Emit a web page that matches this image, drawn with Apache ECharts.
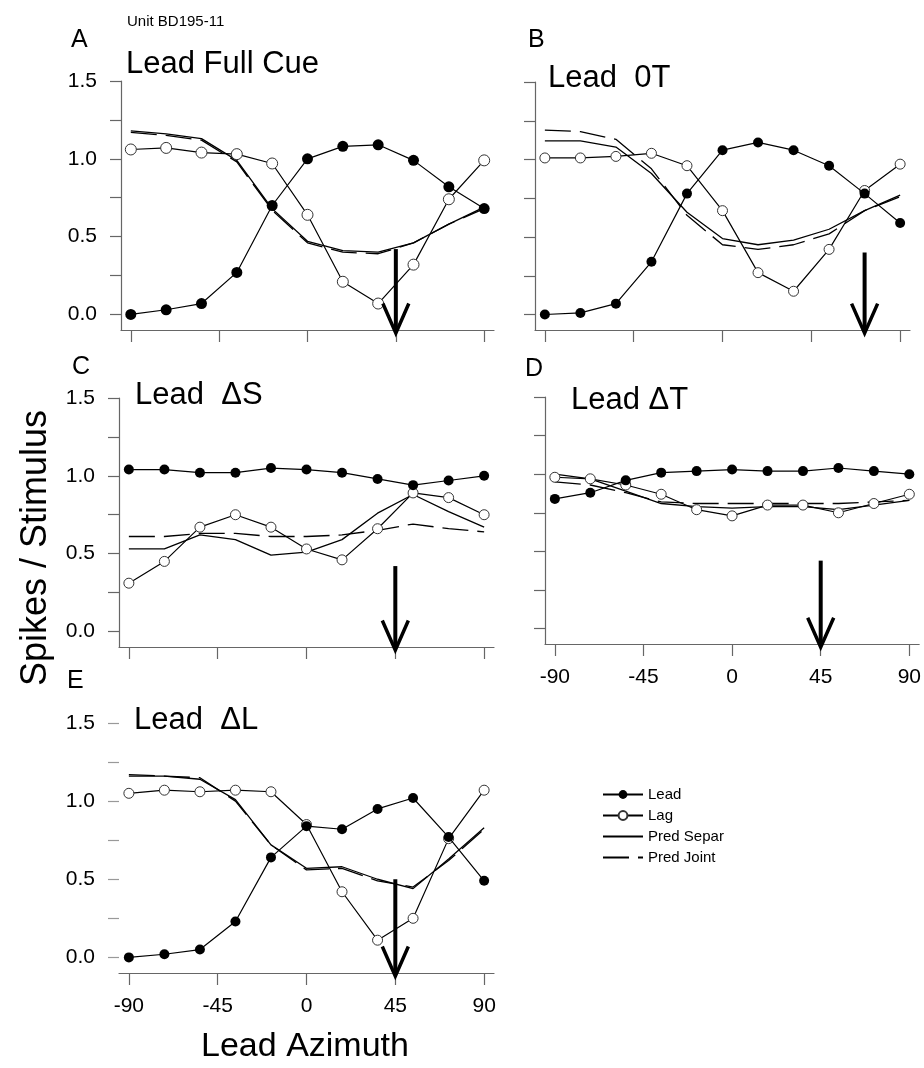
<!DOCTYPE html>
<html>
<head>
<meta charset="utf-8">
<script src="https://cdn.jsdelivr.net/npm/echarts@6/dist/echarts.min.js"></script>
<style>
  html, body { margin: 0; padding: 0; background: #fff; }
  #chart { width: 924px; height: 1068px; }
</style>
</head>
<body>
<div id="chart"></div>
<script>
// Lead azimuth (deg) of every stimulus position
const azimuth = [-90, -72, -54, -36, -18, 0, 18, 36, 54, 72, 90];

// Panel A: Lead Full Cue
const leadA  = [0.00, 0.03, 0.07, 0.27, 0.70, 1.00, 1.08, 1.09, 0.99, 0.82, 0.68];
const lagA   = [1.06, 1.07, 1.04, 1.03, 0.97, 0.64, 0.21, 0.07, 0.32, 0.74, 0.99];
const separA = [1.18, 1.16, 1.13, 0.99, 0.68, 0.47, 0.41, 0.40, 0.46, 0.58, 0.69];
const jointA = [1.17, 1.15, 1.12, 0.98, 0.67, 0.46, 0.40, 0.39, 0.46, 0.58, 0.68];

// Panel B: Lead 0T
const leadB  = [0.00, 0.01, 0.07, 0.34, 0.78, 1.06, 1.11, 1.06, 0.96, 0.78, 0.59];
const lagB   = [1.01, 1.01, 1.02, 1.04, 0.96, 0.67, 0.27, 0.15, 0.42, 0.80, 0.97];
const separB = [1.12, 1.12, 1.08, 0.91, 0.66, 0.49, 0.45, 0.48, 0.55, 0.67, 0.77];
const jointB = [1.19, 1.18, 1.13, 0.94, 0.64, 0.45, 0.42, 0.45, 0.52, 0.67, 0.76];

// Panel C: Lead ΔS
const leadC  = [1.04, 1.04, 1.02, 1.02, 1.05, 1.04, 1.02, 0.98, 0.94, 0.97, 1.00];
const lagC   = [0.31, 0.45, 0.67, 0.75, 0.67, 0.53, 0.46, 0.66, 0.89, 0.86, 0.75];
const separC = [0.53, 0.53, 0.62, 0.59, 0.49, 0.51, 0.59, 0.76, 0.88, 0.77, 0.67];
const jointC = [0.61, 0.61, 0.63, 0.63, 0.61, 0.61, 0.62, 0.65, 0.69, 0.66, 0.64];

// Panel D: Lead ΔT
const leadD  = [0.84, 0.88, 0.96, 1.01, 1.02, 1.03, 1.02, 1.02, 1.04, 1.02, 1.00];
const lagD   = [0.98, 0.97, 0.93, 0.87, 0.77, 0.73, 0.80, 0.80, 0.75, 0.81, 0.87];
const separD = [1.00, 0.97, 0.89, 0.81, 0.79, 0.78, 0.79, 0.79, 0.77, 0.80, 0.83];
const jointD = [0.95, 0.93, 0.88, 0.82, 0.81, 0.81, 0.81, 0.81, 0.81, 0.82, 0.83];

// Panel E: Lead ΔL
const leadE  = [0.00, 0.02, 0.05, 0.23, 0.64, 0.84, 0.82, 0.95, 1.02, 0.77, 0.49];
const lagE   = [1.05, 1.07, 1.06, 1.07, 1.06, 0.85, 0.42, 0.11, 0.25, 0.76, 1.07];
const separE = [1.16, 1.16, 1.14, 1.01, 0.72, 0.57, 0.58, 0.50, 0.44, 0.63, 0.83];
const jointE = [1.17, 1.16, 1.15, 1.00, 0.72, 0.56, 0.57, 0.49, 0.45, 0.62, 0.82];

// Panel annotations
const panelLetters = ['A', 'B', 'C', 'D', 'E'];
const panelTitles = ['Lead Full Cue', 'Lead  0T', 'Lead  \u0394S', 'Lead \u0394T', 'Lead  \u0394L'];
const arrowAzimuth = [45, 72, 45, 45, 45];   // marked azimuth per panel
const arrowTop = [0.42, 0.40, 0.42, 0.44, 0.50];

// Axis ticks
const xTickValues = [-90, -45, 0, 45, 90];
const yTickValues = [0, 0.25, 0.5, 0.75, 1.0, 1.25, 1.5];
const yLabelValues = [0, 0.5, 1.0, 1.5];

const seriesNames = ['Lead', 'Lag', 'Pred Separ', 'Pred Joint'];
const panelData = [
  [leadA, lagA, separA, jointA],
  [leadB, lagB, separB, jointB],
  [leadC, lagC, separC, jointC],
  [leadD, lagD, separD, jointD],
  [leadE, lagE, separE, jointE]
];

// Layout of each panel (pixels)
const layout = [
  { left: 121, top: 81,  width: 373, height: 249, yLabels: true,  xLabels: false, yLine: true,  symbol: 11, letter: [66, 23],  title: [121, 44] },
  { left: 535, top: 82,  width: 375, height: 248, yLabels: false, xLabels: false, yLine: true,  symbol: 10, letter: [523, 23], title: [543, 58] },
  { left: 119, top: 398, width: 375, height: 249, yLabels: true,  xLabels: false, yLine: true,  symbol: 10, letter: [67, 350], title: [130, 375] },
  { left: 545, top: 397, width: 376, height: 247, yLabels: false, xLabels: true,  yLine: true,  symbol: 10, letter: [520, 352], title: [566, 380] },
  { left: 119, top: 723, width: 375, height: 250, yLabels: true,  xLabels: true,  yLine: false, symbol: 10, letter: [62, 664], title: [129, 700] }
];

const FONT = 'Liberation Sans, Arial, sans-serif';
const AXIS_COLOR = '#666';
const X_MIN = -95, X_MAX = 95, Y_MIN = -0.1, Y_MAX = 1.5;

const grids = [], xAxes = [], yAxes = [], series = [], titles = [];

layout.forEach((p, i) => {
  grids.push({ left: p.left, top: p.top, width: p.width, height: p.height });

  xAxes.push({
    type: 'value', gridIndex: i, min: X_MIN, max: X_MAX,
    axisLine: { onZero: false, lineStyle: { color: AXIS_COLOR, width: 1.2 } },
    axisTick: { show: true, length: 12, customValues: xTickValues, lineStyle: { color: AXIS_COLOR, width: 1.2 } },
    axisLabel: { show: p.xLabels, customValues: xTickValues, margin: 23, color: '#000', fontSize: 21, fontFamily: FONT },
    splitLine: { show: false }
  });

  yAxes.push({
    type: 'value', gridIndex: i, min: Y_MIN, max: Y_MAX,
    axisLine: { show: p.yLine, onZero: false, lineStyle: { color: AXIS_COLOR, width: 1.2 } },
    axisTick: { show: true, length: 11, customValues: yTickValues, lineStyle: { color: p.yLine ? AXIS_COLOR : '#999', width: 1.2 } },
    axisLabel: {
      show: p.yLabels, customValues: yLabelValues, margin: 24, color: '#000', fontSize: 21, fontFamily: FONT,
      formatter: v => v.toFixed(1)
    },
    splitLine: { show: false }
  });

  const [lead, lag, separ, joint] = panelData[i];
  const pts = arr => azimuth.map((a, k) => [a, arr[k]]);

  series.push({
    name: 'Pred Separ', type: 'line', xAxisIndex: i, yAxisIndex: i, data: pts(separ),
    showSymbol: false, symbol: 'none', z: 2, animation: false,
    lineStyle: { color: '#000', width: 1.3 }, itemStyle: { color: '#000' }
  });
  series.push({
    name: 'Pred Joint', type: 'line', xAxisIndex: i, yAxisIndex: i, data: pts(joint),
    showSymbol: false, symbol: 'none', z: 2, animation: false,
    lineStyle: { color: '#000', width: 1.3, type: [26, 9] }, itemStyle: { color: '#000' }
  });
  series.push({
    name: 'Lag', type: 'line', xAxisIndex: i, yAxisIndex: i, data: pts(lag),
    symbol: 'circle', symbolSize: p.symbol, z: 3, animation: false,
    lineStyle: { color: '#000', width: 1.2 },
    itemStyle: { color: '#fff', borderColor: '#333', borderWidth: 1 }
  });
  series.push({
    name: 'Lead', type: 'line', xAxisIndex: i, yAxisIndex: i, data: pts(lead),
    symbol: 'circle', symbolSize: p.symbol, z: 4, animation: false,
    lineStyle: { color: '#000', width: 1.2 },
    itemStyle: { color: '#000', borderColor: '#000', borderWidth: 0 }
  });

  // Downward arrow at the marked azimuth: shaft and open head
  const ax = arrowAzimuth[i];
  const tip = -0.12, headDx = 6.6, headDy = 0.19;
  series.push({
    name: 'arrow', type: 'line', xAxisIndex: i, yAxisIndex: i, clip: false,
    data: [[ax, arrowTop[i]], [ax, tip + 0.02]],
    symbol: 'none', z: 5, animation: false, silent: true,
    lineStyle: { color: '#000', width: 4 }
  });
  series.push({
    name: 'arrow', type: 'line', xAxisIndex: i, yAxisIndex: i, clip: false,
    data: [[ax - headDx, tip + headDy], [ax, tip], [ax + headDx, tip + headDy]],
    symbol: 'none', z: 5, animation: false, silent: true,
    lineStyle: { color: '#000', width: 3.5, join: 'miter' }
  });

  titles.push({
    text: panelLetters[i], left: p.letter[0], top: p.letter[1],
    textStyle: { fontSize: 25, fontWeight: 'normal', color: '#000', fontFamily: FONT, lineHeight: 25 }
  });
  titles.push({
    text: panelTitles[i], left: p.title[0], top: p.title[1],
    textStyle: { fontSize: 31, fontWeight: 'normal', color: '#000', fontFamily: FONT, lineHeight: 31 }
  });
});

titles.push({
  text: 'Unit BD195-11', left: 122, top: 9,
  textStyle: { fontSize: 15, fontWeight: 'normal', color: '#000', fontFamily: FONT, lineHeight: 15 }
});

// Legend entries: the prediction curves are shown as plain lines
const legendData = seriesNames.map(name =>
  name.indexOf('Pred') === 0 ? { name: name, itemStyle: { opacity: 0 } } : { name: name }
);

const chart = echarts.init(document.getElementById('chart'), null, { renderer: 'canvas' });
chart.setOption({
  backgroundColor: '#fff',
  animation: false,
  title: titles,
  grid: grids,
  xAxis: xAxes,
  yAxis: yAxes,
  series: series,
  legend: {
    data: legendData,
    orient: 'vertical',
    left: 597, top: 782,
    itemWidth: 40, itemHeight: 11, itemGap: 6,
    textStyle: { fontSize: 15, color: '#000', fontFamily: FONT, lineHeight: 15 },
    selectedMode: false
  },
  graphic: [
    {
      type: 'text', x: 36, y: 548, rotation: Math.PI / 2,
      style: { text: 'Spikes / Stimulus', fontSize: 36, fontFamily: FONT, fill: '#000', align: 'center', verticalAlign: 'middle' }
    },
    {
      type: 'text', x: 305, y: 1047,
      style: { text: 'Lead Azimuth', fontSize: 34, fontFamily: FONT, fill: '#000', align: 'center', verticalAlign: 'middle' }
    }
  ]
});
</script>
</body>
</html>
